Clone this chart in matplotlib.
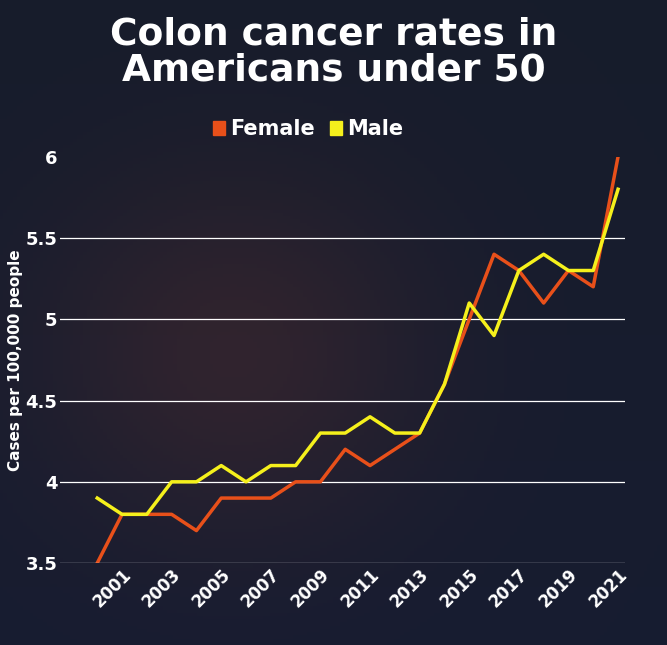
import matplotlib
matplotlib.use("Agg")
import matplotlib.pyplot as plt
import numpy as np

years = list(range(2000, 2022))
female = [3.5,3.8,3.8,3.8,3.7,3.9,3.9,3.9,4.0,4.0,4.2,4.1,4.2,4.3,4.6,5.0,5.4,5.3,5.1,5.3,5.2,6.0]
male = [3.9,3.8,3.8,4.0,4.0,4.1,4.0,4.1,4.1,4.3,4.3,4.4,4.3,4.3,4.6,5.1,4.9,5.3,5.4,5.3,5.3,5.8]
yticks = [3.5,4,4.5,5,5.5,6]
xlabels = [str(y) for y in range(2001, 2022, 2)]

fig = plt.figure(figsize=(6.67,6.45), dpi=100)
bg = fig.add_axes([0,0,1,1]); bg.set_axis_off()
yy, xx = np.mgrid[0:1:200j, 0:1:200j]
g = np.exp(-((xx-0.35)**2+(yy-0.55)**2)/0.08)
img = np.zeros((200,200,3))
img[...,0] = 0.09 + 0.10*g
img[...,1] = 0.11 + 0.03*g
img[...,2] = 0.17 + 0.02*yy
bg.imshow(img, extent=[0,1,0,1], aspect='auto')

ax = fig.add_axes([0.09, 0.127, 0.847, 0.63])
ax.set_facecolor('none')
ax.plot(years, female, color='#e8501a', lw=2.5)
ax.plot(years, male, color='#f5f01c', lw=2.5)
ax.set_ylim(3.5, 6)
ax.set_xlim(1998.5, 2021.28)
ax.set_yticks(yticks)
ax.set_yticklabels([f"{t:g}" for t in yticks], color='white', fontsize=13, fontweight='bold')
ax.set_xticks(range(2001,2022,2))
ax.set_xticklabels(xlabels, rotation=45, ha='right', rotation_mode='anchor', color='white', fontsize=12, fontweight='bold')
for t in yticks[1:-1]:
    ax.axhline(t, color='white', lw=0.9, zorder=0)
ax.axhline(3.5, color='white', lw=0.9)
for s in ax.spines.values(): s.set_visible(False)
ax.tick_params(length=0, pad=2)
ax.set_ylabel('Cases per 100,000 people', color='white', fontsize=11, fontweight='bold', labelpad=2)
fig.text(0.5, 0.975, 'Colon cancer rates in\nAmericans under 50', ha='center', va='top', color='white', fontsize=27, fontweight='heavy', linespacing=1.0)
fig.patches.append(matplotlib.patches.Rectangle((0.32,0.79),0.018,0.022,color='#e8501a',transform=fig.transFigure))
fig.text(0.345, 0.80, 'Female', color='white', fontsize=15, fontweight='bold', va='center')
fig.patches.append(matplotlib.patches.Rectangle((0.495,0.79),0.018,0.022,color='#f5f01c',transform=fig.transFigure))
fig.text(0.52, 0.80, 'Male', color='white', fontsize=15, fontweight='bold', va='center')
fig.savefig('out.png', dpi=100)
